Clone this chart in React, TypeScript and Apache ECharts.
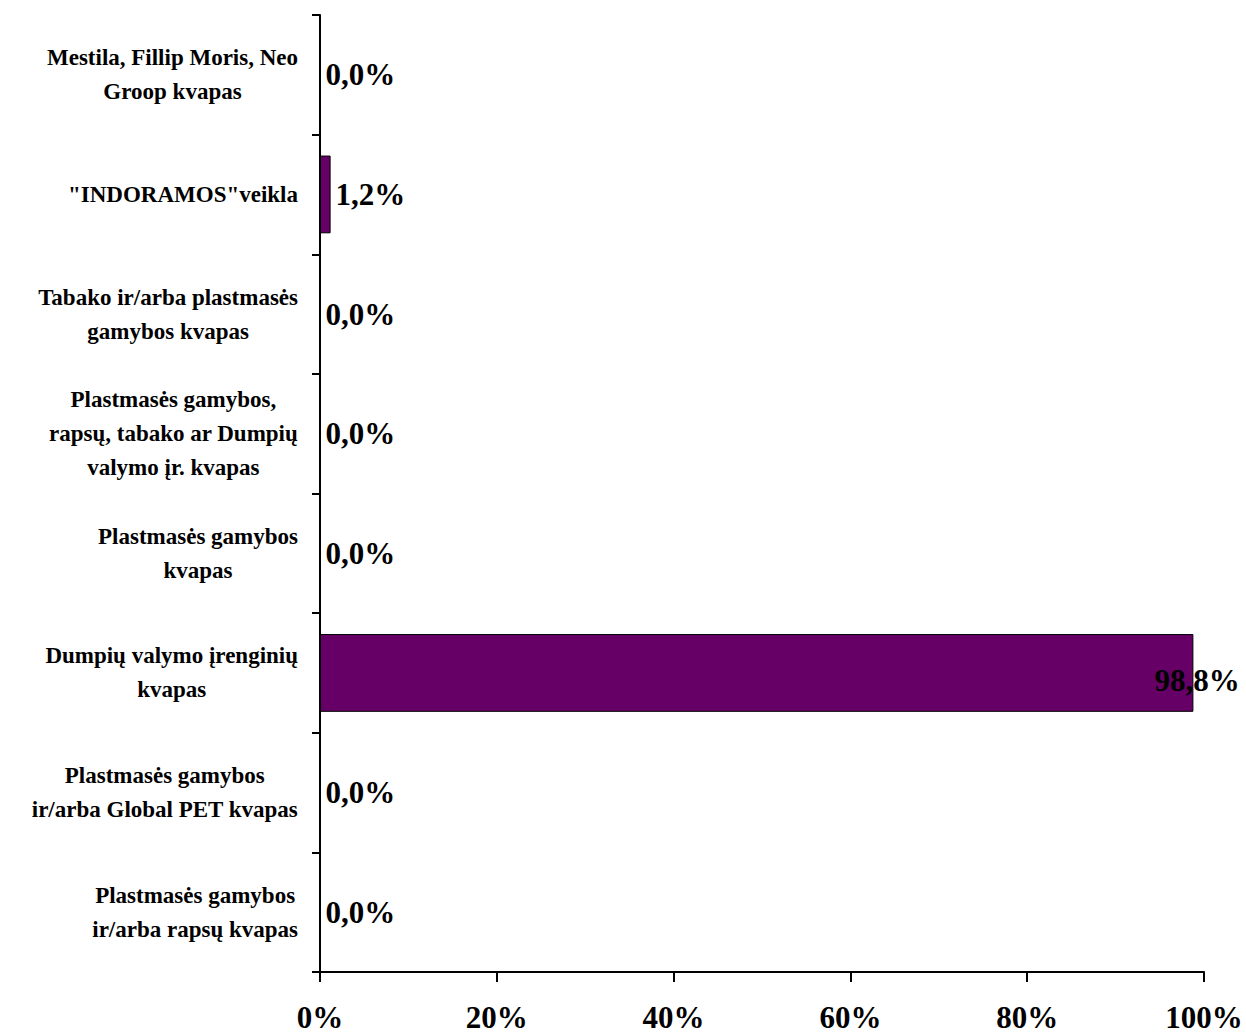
import React, { useEffect, useRef } from "react";
import * as echarts from "echarts";

// Categories listed bottom to top (ECharts category y-axis order)
const categories: string[] = [
  "Plastmasės gamybos\nir/arba rapsų kvapas",
  "Plastmasės gamybos\nir/arba Global PET kvapas",
  "Dumpių valymo įrenginių\nkvapas",
  "Plastmasės gamybos\nkvapas",
  "Plastmasės gamybos,\nrapsų, tabako ar Dumpių\nvalymo įr. kvapas",
  "Tabako ir/arba plastmasės\ngamybos kvapas",
  "\"INDORAMOS\"veikla",
  "Mestila, Fillip Moris, Neo\nGroop kvapas",
];
const values: number[] = [0.0, 0.0, 98.8, 0.0, 0.0, 0.0, 1.2, 0.0];
const xTicks: number[] = [0, 20, 40, 60, 80, 100];

const FONT = "'Liberation Serif', 'Times New Roman', serif";

export default function App() {
  const ref = useRef<HTMLDivElement>(null);
  useEffect(() => {
    if (!ref.current) return;
    const chart = echarts.init(ref.current, null, { renderer: "svg" });
    const data = values.map((v) => {
      const item: any = { value: v };
      if (v > 50) {
        item.label = { offset: [-44, 8] };
      }
      return item;
    });
    chart.setOption({
      animation: false,
      backgroundColor: "#ffffff",
      grid: { left: 320, right: 42, top: 15, bottom: 63, containLabel: false },
      xAxis: {
        type: "value",
        min: xTicks[0],
        max: xTicks[xTicks.length - 1],
        interval: xTicks[1] - xTicks[0],
        splitLine: { show: false },
        axisLine: { show: true, lineStyle: { color: "#000", width: 2 } },
        axisTick: { show: true, length: 10, lineStyle: { color: "#000", width: 2 } },
        axisLabel: {
          formatter: "{value}%",
          fontFamily: FONT,
          fontWeight: "bold",
          fontSize: 31,
          color: "#000",
          margin: 30,
        },
      },
      yAxis: {
        type: "category",
        data: categories,
        axisLine: { show: true, lineStyle: { color: "#000", width: 2 } },
        axisTick: { show: true, length: 8, lineStyle: { color: "#000", width: 2 } },
        axisLabel: {
          margin: 22,
          align: "right",
          formatter: (v: string) =>
            v.split("\n").map((l) => `{a|${l}}`).join("\n"),
          rich: {
            a: {
              fontFamily: FONT,
              fontWeight: "bold",
              fontSize: 23,
              lineHeight: 34,
              color: "#000",
              align: "center",
            },
          },
        },
      },
      series: [
        {
          type: "bar",
          data,
          barCategoryGap: "35%",
          itemStyle: { color: "#660066", borderColor: "#000", borderWidth: 1 },
          label: {
            show: true,
            position: "right",
            distance: 5,
            fontFamily: FONT,
            fontWeight: "bold",
            fontSize: 31,
            color: "#000",
            formatter: (p: any) => p.value.toFixed(1).replace(".", ",") + "%",
          },
        },
      ],
    });
    return () => chart.dispose();
  }, []);
  return (
    <div
      ref={ref}
      style={{ position: "fixed", left: 0, top: 0, width: 1246, height: 1035 }}
    />
  );
}
